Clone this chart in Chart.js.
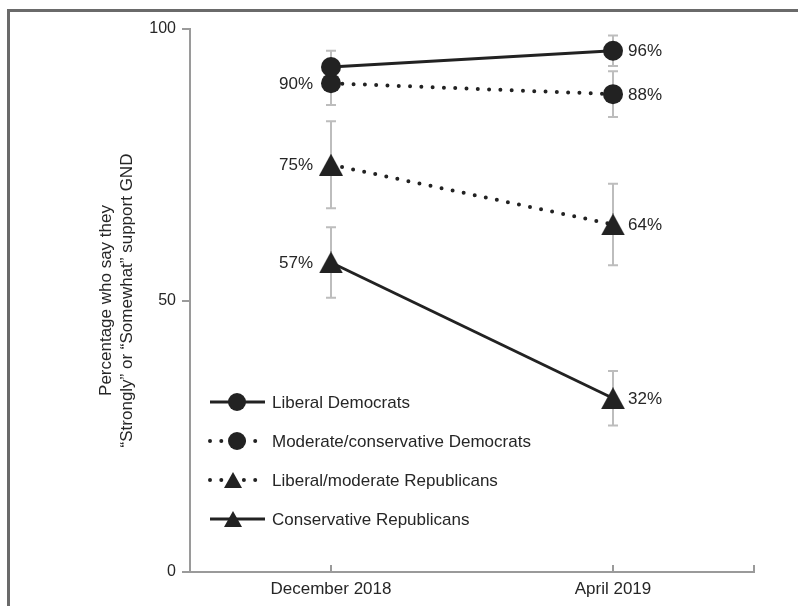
<!DOCTYPE html>
<html>
<head>
<meta charset="utf-8">
<script src="https://cdn.jsdelivr.net/npm/chart.js@4.4.1/dist/chart.umd.min.js"></script>
<style>
  html, body { margin: 0; padding: 0; background: #fff; }
  #wrap { width: 798px; height: 606px; position: relative; }
  canvas { display: block; }
</style>
</head>
<body>
<div id="wrap"><canvas id="c" width="798" height="606"></canvas></div>
<script>
// Survey waves on the horizontal axis
const categories = ['December 2018', 'April 2019'];

// Groups, in legend order
const seriesNames = [
  'Liberal Democrats',
  'Moderate/conservative Democrats',
  'Liberal/moderate Republicans',
  'Conservative Republicans'
];

// Share (%) saying they "Strongly" or "Somewhat" support the GND
const liberalDemocrats = [93, 96];
const moderateDemocrats = [90, 88];
const liberalRepublicans = [75, 64];
const conservativeRepublicans = [57, 32];

// Half-width of each confidence interval (percentage points)
const liberalDemocratsErr = [3, 2.8];
const moderateDemocratsErr = [4, 4.2];
const liberalRepublicansErr = [8, 7.5];
const conservativeRepublicansErr = [6.5, 5];

// Which points carry a value label
const liberalDemocratsLabels = [false, true];
const moderateDemocratsLabels = [true, true];
const liberalRepublicansLabels = [true, true];
const conservativeRepublicansLabels = [true, true];

// Y axis ticks
const yTicks = [0, 50, 100];
const yTitle = ['Percentage who say they', '\u201cStrongly\u201d or \u201cSomewhat\u201d support GND'];

const INK = '#222222';
const TEXT = '#262626';
const AXIS = '#9a9a9a';
const ERR = '#bdbdbd';
const FONT = '"Liberation Sans", Arial, Helvetica, sans-serif';

// Each wave sits at an odd position on a 0..4 linear axis
const waveX = i => 1 + 2 * i;

function triangleMarker(w, h) {
  const c = document.createElement('canvas');
  c.width = w; c.height = h;
  const g = c.getContext('2d');
  g.fillStyle = INK;
  g.beginPath();
  g.moveTo(w / 2, 0);
  g.lineTo(w, h);
  g.lineTo(0, h);
  g.closePath();
  g.fill();
  return c;
}

const triBig = triangleMarker(24, 22);
const triSmall = triangleMarker(18, 16);

const DOTS = [0, 11.3];

function makeSeries(name, values, errs, labels, marker, dotted) {
  return {
    label: name,
    data: values.map((v, i) => ({ x: waveX(i), y: v })),
    errors: errs,
    showLabel: labels,
    marker: marker,
    borderColor: INK,
    backgroundColor: INK,
    borderWidth: dotted ? 4 : 3,
    borderDash: dotted ? DOTS : [],
    borderCapStyle: dotted ? 'round' : 'butt',
    pointStyle: marker === 'circle' ? 'circle' : triBig,
    pointRadius: 10,
    pointHoverRadius: 10,
    pointBackgroundColor: INK,
    pointBorderColor: INK,
    pointBorderWidth: 0,
    tension: 0,
    fill: false
  };
}

const datasets = [
  makeSeries(seriesNames[0], liberalDemocrats, liberalDemocratsErr, liberalDemocratsLabels, 'circle', false),
  makeSeries(seriesNames[1], moderateDemocrats, moderateDemocratsErr, moderateDemocratsLabels, 'circle', true),
  makeSeries(seriesNames[2], liberalRepublicans, liberalRepublicansErr, liberalRepublicansLabels, 'triangle', true),
  makeSeries(seriesNames[3], conservativeRepublicans, conservativeRepublicansErr, conservativeRepublicansLabels, 'triangle', false)
];

// Outer frame (top and left rules)
const framePlugin = {
  id: 'frame',
  beforeDraw(chart) {
    const ctx = chart.ctx;
    ctx.save();
    ctx.strokeStyle = '#6a6a6a';
    ctx.lineWidth = 3;
    ctx.beginPath();
    ctx.moveTo(8.5, chart.height);
    ctx.lineTo(8.5, 10.5);
    ctx.lineTo(chart.width, 10.5);
    ctx.stroke();
    ctx.restore();
  }
};

// Grey confidence-interval whiskers behind the lines
const errorBarPlugin = {
  id: 'errorBars',
  beforeDatasetsDraw(chart) {
    const ctx = chart.ctx;
    const ys = chart.scales.y;
    ctx.save();
    ctx.strokeStyle = ERR;
    ctx.lineWidth = 2;
    chart.data.datasets.forEach((ds, di) => {
      const meta = chart.getDatasetMeta(di);
      meta.data.forEach((pt, i) => {
        const v = ds.data[i].y, e = ds.errors[i];
        const top = ys.getPixelForValue(v + e);
        const bot = ys.getPixelForValue(v - e);
        const x = Math.round(pt.x);
        ctx.beginPath();
        ctx.moveTo(x, top); ctx.lineTo(x, bot);
        ctx.moveTo(x - 5, top); ctx.lineTo(x + 5, top);
        ctx.moveTo(x - 5, bot); ctx.lineTo(x + 5, bot);
        ctx.stroke();
      });
    });
    ctx.restore();
  }
};

// Value labels, axis decorations, legend and y title
const overlayPlugin = {
  id: 'overlay',
  afterDraw(chart) {
    const ctx = chart.ctx;
    const area = chart.chartArea;
    const xs = chart.scales.x;
    ctx.save();

    // inward tick marks on the x axis
    ctx.strokeStyle = AXIS;
    ctx.lineWidth = 2;
    [1, 3, 4].forEach(v => {
      const x = Math.round(xs.getPixelForValue(v));
      ctx.beginPath();
      ctx.moveTo(x, area.bottom);
      ctx.lineTo(x, area.bottom - 7);
      ctx.stroke();
    });

    // value labels
    ctx.fillStyle = TEXT;
    ctx.font = '17px ' + FONT;
    ctx.textBaseline = 'middle';
    chart.data.datasets.forEach((ds, di) => {
      const meta = chart.getDatasetMeta(di);
      meta.data.forEach((pt, i) => {
        if (!ds.showLabel[i]) return;
        const txt = ds.data[i].y + '%';
        if (i === 0) {
          ctx.textAlign = 'right';
          ctx.fillText(txt, pt.x - 18, pt.y + 1);
        } else {
          ctx.textAlign = 'left';
          ctx.fillText(txt, pt.x + 15, pt.y + 1);
        }
      });
    });

    // legend inside the plot
    const lx0 = area.left + 20, lx1 = area.left + 75, lmid = area.left + 47;
    chart.data.datasets.forEach((ds, di) => {
      const y = area.top + 373 + di * 39;
      ctx.strokeStyle = INK;
      ctx.lineWidth = ds.borderWidth;
      ctx.lineCap = ds.borderCapStyle;
      ctx.setLineDash(ds.borderDash);
      ctx.beginPath();
      ctx.moveTo(lx0, y);
      ctx.lineTo(lx1, y);
      ctx.stroke();
      ctx.setLineDash([]);
      ctx.fillStyle = INK;
      if (ds.marker === 'circle') {
        ctx.beginPath();
        ctx.arc(lmid, y, 9, 0, Math.PI * 2);
        ctx.fill();
      } else {
        ctx.drawImage(triSmall, lmid - 4 - triSmall.width / 2, y - triSmall.height / 2);
      }
      ctx.fillStyle = TEXT;
      ctx.textAlign = 'left';
      ctx.textBaseline = 'middle';
      ctx.font = '17px ' + FONT;
      ctx.fillText(ds.label, area.left + 82, y + 1);
    });

    // rotated y axis title
    ctx.translate(area.left - 84, (area.top + area.bottom) / 2);
    ctx.rotate(-Math.PI / 2);
    ctx.textAlign = 'center';
    ctx.fillStyle = TEXT;
    ctx.font = '17px ' + FONT;
    ctx.fillText(yTitle[0], 0, 0);
    ctx.fillText(yTitle[1], 0, 21);
    ctx.restore();
  }
};

new Chart(document.getElementById('c'), {
  type: 'line',
  data: { datasets },
  options: {
    responsive: false,
    animation: false,
    events: [],
    layout: { padding: { top: 29, right: 44, left: 0, bottom: 0 } },
    plugins: { legend: { display: false }, tooltip: { enabled: false } },
    scales: {
      x: {
        type: 'linear',
        min: 0,
        max: 4,
        afterBuildTicks: s => { s.ticks = [1, 3, 4].map(v => ({ value: v })); },
        afterFit: s => { s.height = 34; },
        grid: { display: false, drawTicks: false },
        border: { display: true, color: AXIS, width: 2 },
        ticks: {
          padding: 7,
          color: TEXT,
          font: { family: FONT, size: 17 },
          maxRotation: 0,
          autoSkip: false,
          callback: v => (v === 1 ? categories[0] : v === 3 ? categories[1] : '')
        }
      },
      y: {
        type: 'linear',
        min: 0,
        max: 100,
        afterBuildTicks: s => { s.ticks = yTicks.map(v => ({ value: v })); },
        afterFit: s => { s.width = 190; },
        grid: { drawOnChartArea: false, drawTicks: true, tickLength: 8, color: AXIS, lineWidth: 2 },
        border: { display: true, color: AXIS, width: 2 },
        ticks: {
          padding: 6,
          color: TEXT,
          font: { family: FONT, size: 16 },
          callback: v => String(v)
        }
      }
    }
  },
  plugins: [framePlugin, errorBarPlugin, overlayPlugin]
});
</script>
</body>
</html>
